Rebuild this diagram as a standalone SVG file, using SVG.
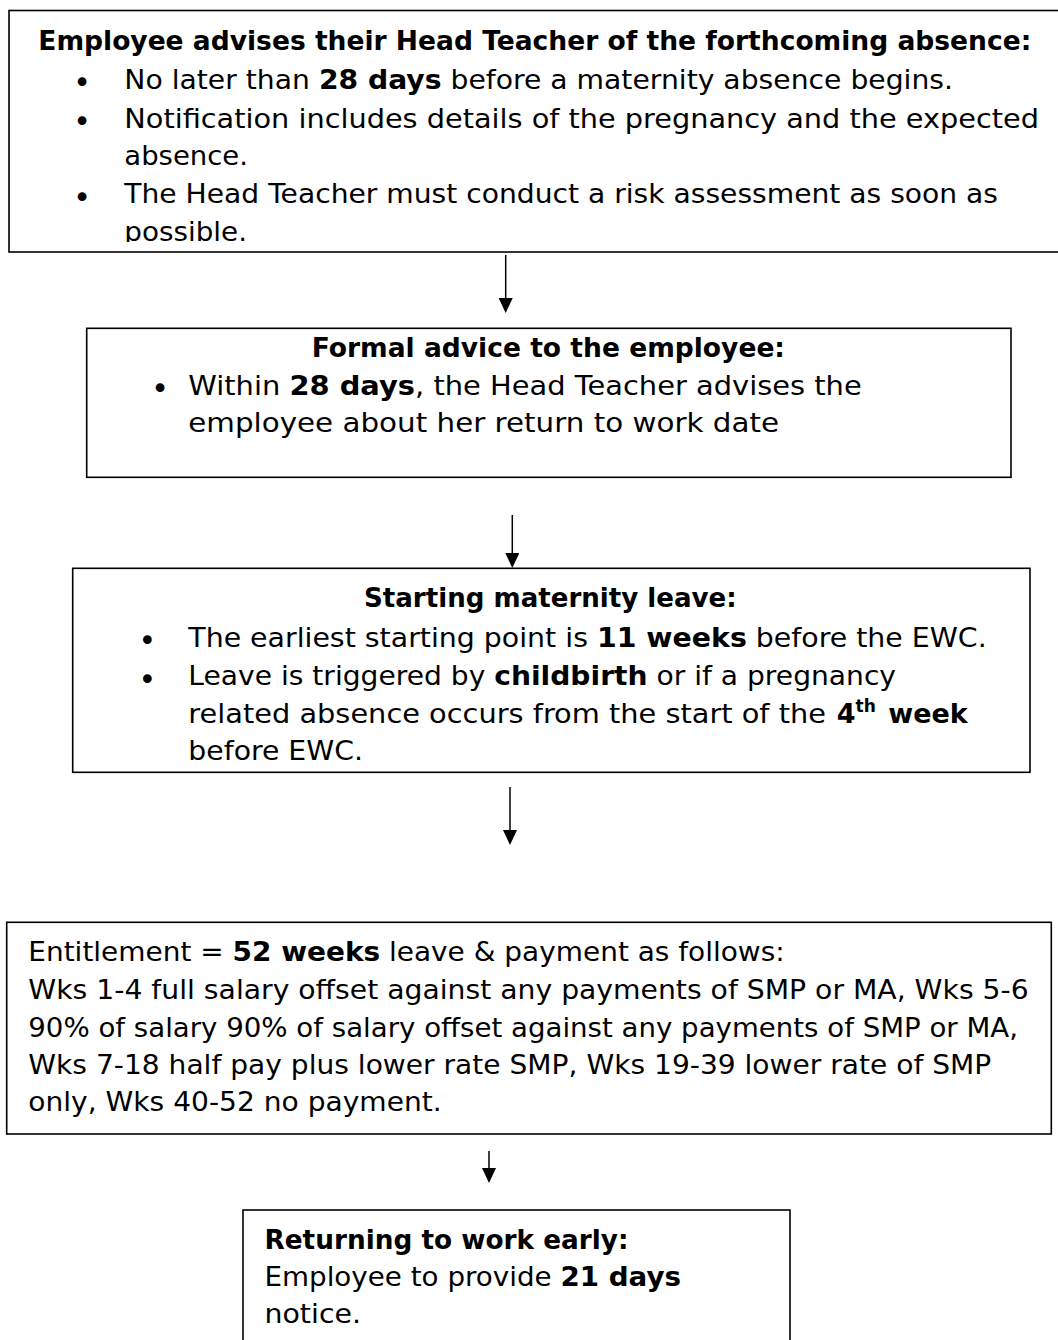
<svg xmlns="http://www.w3.org/2000/svg" width="1058" height="1340" viewBox="0 0 1058 1340">
<style>
.t{font-family:"DejaVu Sans",Verdana,sans-serif;font-size:27px;fill:#000}
.b{font-weight:bold}
.bul{font-family:"DejaVu Sans",Verdana,sans-serif;font-size:30px;fill:#000;text-anchor:middle}
.sup{font-size:17px;font-weight:bold}
.box{fill:#fff;stroke:#000;stroke-width:1.6}
.conn{stroke:#000;stroke-width:1.5;fill:none;marker-end:url(#ah)}
</style>
<defs>
<marker id="ah" viewBox="0 0 15 14" refX="0" refY="7" markerWidth="15" markerHeight="14" markerUnits="userSpaceOnUse" orient="auto">
<path d="M0,0 L15,7 L0,14 Z" fill="#000"/>
</marker>
<clipPath id="c1"><rect x="0" y="0" width="1058" height="242"/></clipPath>
</defs>
<rect width="1058" height="1340" fill="#fff"/>

<g id="connectors">
<line class="conn" x1="505.7" y1="255" x2="505.7" y2="298"/>
<line class="conn" x1="512.3" y1="515" x2="512.3" y2="553"/>
<line class="conn" x1="510" y1="787" x2="510" y2="830"/>
<line class="conn" x1="489" y1="1151" x2="489" y2="1168"/>
</g>

<g id="node-notify">
<rect class="box" x="9" y="10.5" width="1060" height="241.5"/>
<g clip-path="url(#c1)">
<text class="t b" x="38.3" y="49.5" textLength="993" lengthAdjust="spacingAndGlyphs">Employee advises their Head Teacher of the forthcoming absence:</text>
<text class="bul" x="82" y="93">•</text>
<text class="t" x="124.3" y="88.5" textLength="828.7" lengthAdjust="spacingAndGlyphs">No later than <tspan class="b">28 days</tspan> before a maternity absence begins.</text>
<text class="bul" x="82" y="132.2">•</text>
<text class="t" x="124.3" y="127.7" textLength="914.7" lengthAdjust="spacingAndGlyphs">Notification includes details of the pregnancy and the expected</text>
<text class="t" x="124.3" y="165" textLength="123.7" lengthAdjust="spacingAndGlyphs">absence.</text>
<text class="bul" x="82" y="207.5">•</text>
<text class="t" x="124.3" y="203" textLength="873.7" lengthAdjust="spacingAndGlyphs">The Head Teacher must conduct a risk assessment as soon as</text>
<text class="t" x="124.3" y="240.7" textLength="122.7" lengthAdjust="spacingAndGlyphs">possible.</text>
</g>
</g>

<g id="node-advice">
<rect class="box" x="86.7" y="328.3" width="924.3" height="149"/>
<text class="t b" x="311.7" y="357" textLength="473.3" lengthAdjust="spacingAndGlyphs">Formal advice to the employee:</text>
<text class="bul" x="160" y="399">•</text>
<text class="t" x="188.3" y="394.5" textLength="673.4" lengthAdjust="spacingAndGlyphs">Within <tspan class="b">28 days</tspan>, the Head Teacher advises the</text>
<text class="t" x="188.3" y="431.5" textLength="590.7" lengthAdjust="spacingAndGlyphs">employee about her return to work date</text>
</g>

<g id="node-start">
<rect class="box" x="72.7" y="568.3" width="957.3" height="204"/>
<text class="t b" x="364" y="607" textLength="372.7" lengthAdjust="spacingAndGlyphs">Starting maternity leave:</text>
<text class="bul" x="147.3" y="651">•</text>
<text class="t" x="188.3" y="646.5" textLength="798.4" lengthAdjust="spacingAndGlyphs">The earliest starting point is <tspan class="b">11 weeks</tspan> before the EWC.</text>
<text class="bul" x="147.3" y="689.5">•</text>
<text class="t" x="188.3" y="685" textLength="707.7" lengthAdjust="spacingAndGlyphs">Leave is triggered by <tspan class="b">childbirth</tspan> or if a pregnancy</text>
<text class="t" x="188.3" y="723" textLength="637.7" lengthAdjust="spacingAndGlyphs">related absence occurs from the start of the</text>
<text class="t b" x="836.7" y="723">4<tspan class="sup" x="855.5" y="712">th</tspan><tspan x="888.3" y="723">week</tspan></text>
<text class="t" x="188.3" y="760" textLength="174.7" lengthAdjust="spacingAndGlyphs">before EWC.</text>
</g>

<g id="node-entitlement">
<rect class="box" x="6.7" y="922.3" width="1044.6" height="211.7"/>
<text class="t" x="28.3" y="961" textLength="756.4" lengthAdjust="spacingAndGlyphs">Entitlement = <tspan class="b">52 weeks</tspan> leave &amp; payment as follows:</text>
<text class="t" x="28.3" y="999" textLength="1000.4" lengthAdjust="spacingAndGlyphs">Wks 1-4 full salary offset against any payments of SMP or MA, Wks 5-6</text>
<text class="t" x="28.3" y="1036.7" textLength="989.7" lengthAdjust="spacingAndGlyphs">90% of salary 90% of salary offset against any payments of SMP or MA,</text>
<text class="t" x="28.3" y="1074" textLength="963" lengthAdjust="spacingAndGlyphs">Wks 7-18 half pay plus lower rate SMP, Wks 19-39 lower rate of SMP</text>
<text class="t" x="28.3" y="1111" textLength="413.4" lengthAdjust="spacingAndGlyphs">only, Wks 40-52 no payment.</text>
</g>

<g id="node-return">
<rect class="box" x="243" y="1210" width="547" height="145"/>
<text class="t b" x="264.5" y="1249" textLength="364" lengthAdjust="spacingAndGlyphs">Returning to work early:</text>
<text class="t" x="264.5" y="1286" textLength="416.5" lengthAdjust="spacingAndGlyphs">Employee to provide <tspan class="b">21 days</tspan></text>
<text class="t" x="264.5" y="1323" textLength="96.5" lengthAdjust="spacingAndGlyphs">notice.</text>
</g>
</svg>
